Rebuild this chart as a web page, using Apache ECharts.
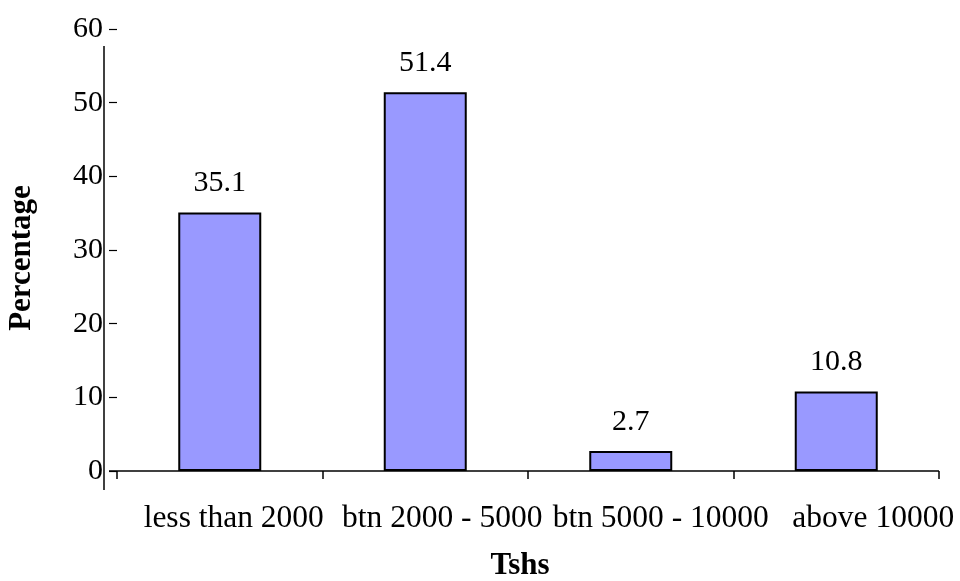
<!DOCTYPE html>
<html>
<head>
<meta charset="utf-8">
<title>Tshs</title>
<script src="https://cdn.jsdelivr.net/npm/echarts@6/dist/echarts.min.js"></script>
<style>
  html, body { margin: 0; padding: 0; background: #ffffff; }
  #chart { width: 960px; height: 581px; }
</style>
</head>
<body>
<div id="chart"></div>
<script>
// Income bands (Tshs) and share of respondents in each
const categories = ['less than 2000', 'btn 2000 - 5000', 'btn 5000 - 10000', 'above 10000'];
const percentages = [35.1, 51.4, 2.7, 10.8];
const yTicks = [0, 10, 20, 30, 40, 50, 60];

// Extra left padding per category label (labels drift right across the axis)
const labelShift = [28, 34, 60, 74];

const FONT = "'Liberation Serif', 'Times New Roman', serif";

const chart = echarts.init(document.getElementById('chart'), null, { renderer: 'canvas' });

const option = {
  animation: false,
  backgroundColor: '#ffffff',
  grid: { left: 117, right: 21, top: 29, bottom: 110, containLabel: false, outerBoundsMode: 'none' },
  xAxis: {
    type: 'category',
    data: categories.map((c, i) => ({ value: c, textStyle: { padding: [0, 0, 0, labelShift[i]] } })),
    boundaryGap: true,
    name: 'Tshs',
    nameLocation: 'middle',
    nameGap: 79,
    nameTextStyle: { fontFamily: FONT, fontSize: 31, fontWeight: 'bold', color: '#000', padding: [0, 16, 0, 0] },
    axisLine: { show: false },
    axisTick: { show: true, length: 8, lineStyle: { color: '#000', width: 1.5 } },
    axisLabel: { interval: 0, margin: 32, fontFamily: FONT, fontSize: 31.5, color: '#000' },
    splitLine: { show: false }
  },
  yAxis: {
    type: 'value',
    min: yTicks[0],
    max: yTicks[yTicks.length - 1],
    interval: yTicks[1] - yTicks[0],
    name: 'Percentage',
    nameLocation: 'middle',
    nameGap: 80,
    nameTextStyle: { fontFamily: FONT, fontSize: 31, fontWeight: 'bold', color: '#000', padding: [0, 16, 0, 0] },
    axisLine: { show: false },
    axisTick: { show: true, length: 8, lineStyle: { color: '#000', width: 1.2 } },
    axisLabel: { margin: 14, fontFamily: FONT, fontSize: 30, color: '#000' },
    splitLine: { show: false }
  },
  series: [{
    type: 'bar',
    data: percentages,
    barWidth: 83,
    itemStyle: { color: '#9999ff', borderColor: '#000', borderWidth: 2 },
    label: {
      show: true,
      position: 'top',
      distance: 14,
      fontFamily: FONT,
      fontSize: 30,
      color: '#000',
      formatter: p => p.value.toFixed(1)
    }
  }]
};

chart.setOption(option);

// Axis lines: the vertical one sits left of the tick marks and overhangs both ends
const zeroPt = chart.convertToPixel({ gridIndex: 0 }, [0, yTicks[0]]);
const topPt = chart.convertToPixel({ gridIndex: 0 }, [0, yTicks[yTicks.length - 1]]);
const gridLeft = option.grid.left;
const gridRight = 960 - option.grid.right;
const yLineX = gridLeft - 13;

chart.setOption({
  graphic: [
    {
      type: 'line',
      shape: { x1: gridLeft - 8, y1: zeroPt[1], x2: gridRight, y2: zeroPt[1] },
      style: { stroke: '#000', lineWidth: 1.5 },
      z: 10
    },
    {
      type: 'line',
      shape: { x1: yLineX, y1: topPt[1] + 17, x2: yLineX, y2: zeroPt[1] + 19 },
      style: { stroke: '#000', lineWidth: 1.5 },
      z: 10
    }
  ]
});
</script>
</body>
</html>
